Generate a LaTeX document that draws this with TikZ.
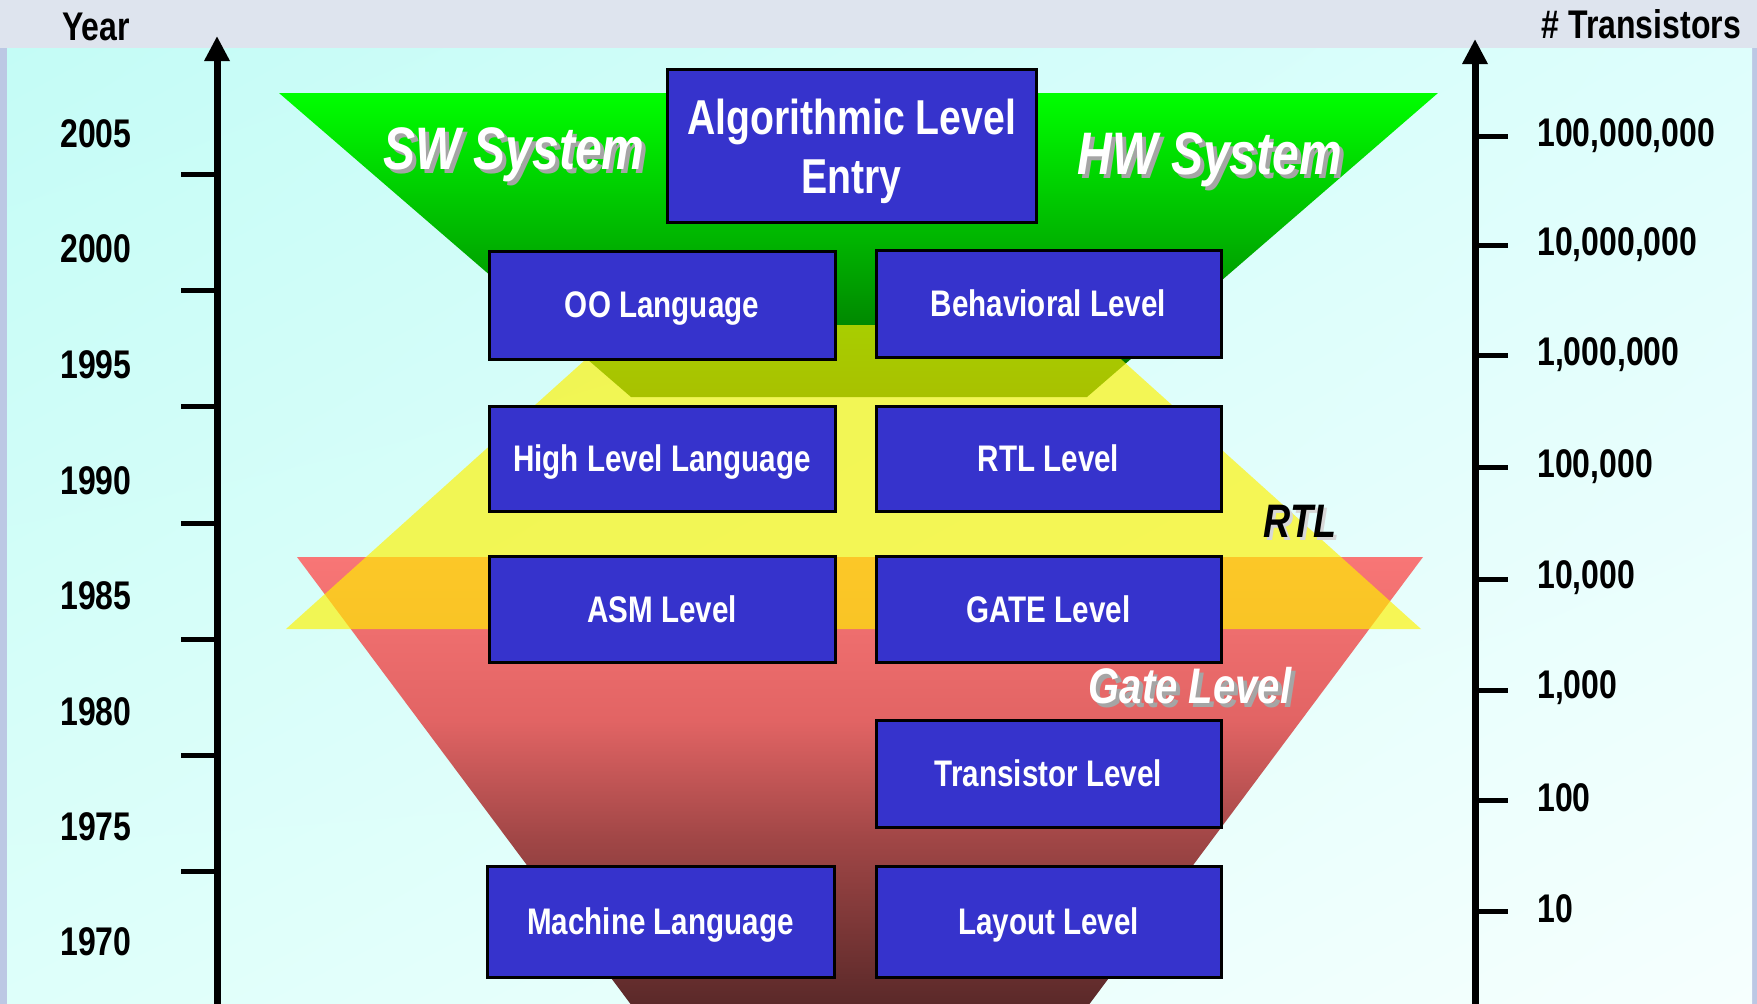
\documentclass[tikz,border=0pt]{standalone}
\usepackage{fontspec}
\setmainfont[FakeStretch=0.8]{Liberation Sans}
\usetikzlibrary{arrows.meta,shadings}
\definecolor{boxblue}{RGB}{54,51,204}
\definecolor{outerbg}{RGB}{222,228,238}
\definecolor{outerside}{RGB}{188,200,228}
\definecolor{cyanUL}{RGB}{196,252,246}
\definecolor{cyanUR}{RGB}{222,254,252}
\definecolor{cyanLL}{RGB}{222,255,250}
\definecolor{cyanLR}{RGB}{246,255,254}
\definecolor{gA}{RGB}{0,255,0}
\definecolor{gB}{RGB}{0,222,0}
\definecolor{gC}{RGB}{0,100,0}
\definecolor{rA}{RGB}{248,118,118}
\definecolor{rMid}{RGB}{226,100,100}
\definecolor{rLow}{RGB}{160,70,70}
\definecolor{rC}{RGB}{88,40,40}
\definecolor{shadowgray}{RGB}{165,165,165}
\definecolor{lightshadow}{RGB}{215,215,215}
\pgfdeclareverticalshading{redfade}{100bp}{color(0bp)=(rC); color(25bp)=(rC);
  color(43.75bp)=(rLow); color(57bp)=(rMid); color(75bp)=(rA); color(100bp)=(rA)}
\tikzset{
  box/.style={draw=black, line width=3pt, fill=boxblue, text=white, inner sep=0pt,
    text depth=0pt, font=\bfseries\fontsize{37}{44}\selectfont},
  boxtext/.style={text=white, inner sep=0pt, align=center,
    font=\bfseries\fontsize{49}{59}\selectfont},
  axisline/.style={line width=7pt, -{Triangle[width=24pt,length=25pt]}},
  tickline/.style={line width=5pt},
  axislabel/.style={font=\bfseries\fontsize{40}{48}\selectfont, text=black, inner sep=0pt},
  bigital/.style={font=\bfseries\itshape\fontsize{60}{70}\selectfont, inner sep=0pt},
  midital/.style={font=\bfseries\itshape\fontsize{50}{60}\selectfont, inner sep=0pt},
  rtlital/.style={font=\bfseries\itshape\fontsize{47}{56}\selectfont, inner sep=0pt}
}
\begin{document}
\begin{tikzpicture}[x=1pt,y=-1pt]
\useasboundingbox (0,0) rectangle (1757,1004);
\clip (0,0) rectangle (1757,1004);
% background
\fill[outerbg] (0,0) rectangle (1757,1004);
\fill[outerside] (0,48) rectangle (7,1004);
\fill[outerside] (1752,48) rectangle (1757,1004);
\shade[upper left=cyanUL, upper right=cyanUR, lower left=cyanLL, lower right=cyanLR]
  (7,48) rectangle (1752,1004);
% layered trapezoids
\shade[top color=gA, middle color=gB, bottom color=gC]
  (279,93) -- (1438,93) -- (1087,397) -- (631,397) -- cycle;
\shade[shading=redfade]
  (297,557) -- (1423,557) -- (1085,1010) -- (635,1010) -- cycle;
\fill[yellow, opacity=0.66]
  (286,629) -- (1421,629) -- (1083,325) -- (624,325) -- cycle;
% axes
\coordinate (lbot) at (217,1010);
\coordinate (ltop) at (217,36);
\coordinate (rbot) at (1475,1010);
\coordinate (rtop) at (1475,39);
\draw[axisline] (lbot) -- (ltop);
\draw[axisline] (rbot) -- (rtop);
\foreach \yy in {174,290,406,523,639,755,871} {
  \draw[tickline] (181,\yy) -- (217,\yy);
}
\foreach \yy in {136,245,355,467,579,690,800,911} {
  \draw[tickline] (1475,\yy) -- (1508,\yy);
}
% axis labels
\node[axislabel] (year) at (96,27) {Year};
\node[axislabel, anchor=east] (trans) at (1741,24) {\# Transistors};
\node[axislabel] (y2005) at (96,134) {2005};
\node[axislabel] (y2000) at (96,249) {2000};
\node[axislabel] (y1995) at (96,365) {1995};
\node[axislabel] (y1990) at (96,481) {1990};
\node[axislabel] (y1985) at (96,596) {1985};
\node[axislabel] (y1980) at (96,712) {1980};
\node[axislabel] (y1975) at (96,827) {1975};
\node[axislabel] (y1970) at (96,942) {1970};
\node[axislabel, anchor=west] (t8) at (1537,136) {100,000,000};
\node[axislabel, anchor=west] (t7) at (1537,245) {10,000,000};
\node[axislabel, anchor=west] (t6) at (1537,355) {1,000,000};
\node[axislabel, anchor=west] (t5) at (1537,467) {100,000};
\node[axislabel, anchor=west] (t4) at (1537,578) {10,000};
\node[axislabel, anchor=west] (t3) at (1537,688) {1,000};
\node[axislabel, anchor=west] (t2) at (1537,798) {100};
\node[axislabel, anchor=west] (t1) at (1537,909) {10};
% boxes
\node[box, minimum width=369pt, minimum height=153pt] (alg) at (851.5,145.5) {};
\node[boxtext] (algt) at (851.5,151.5) {Algorithmic Level\\Entry};
\node[box, minimum width=346pt, minimum height=108pt] (oo) at (662,305) {OO Language};
\node[box, minimum width=345pt, minimum height=107pt] (beh) at (1048.5,303.5) {Behavioral Level};
\node[box, minimum width=346pt, minimum height=105pt] (hll) at (662,458.5) {High Level Language};
\node[box, minimum width=345pt, minimum height=105pt] (rtlb) at (1048.5,458.5) {RTL Level};
\node[box, minimum width=346pt, minimum height=106pt] (asm) at (662,609) {ASM Level};
\node[box, minimum width=345pt, minimum height=106pt] (gate) at (1048.5,609) {GATE Level};
\node[box, minimum width=345pt, minimum height=107pt] (tran) at (1048.5,773.5) {Transistor Level};
\node[box, minimum width=347pt, minimum height=111pt] (mach) at (660.5,921.5) {Machine Language};
\node[box, minimum width=345pt, minimum height=111pt] (lay) at (1048.5,921.5) {Layout Level};
% italic region labels with shadows
\node[bigital, text=shadowgray] (swS) at (518,159) {SW System};
\node[bigital, text=white] (sw) at (514,155) {SW System};
\node[bigital, text=shadowgray] (hwS) at (1214,164) {HW System};
\node[bigital, text=white] (hw) at (1210,160) {HW System};
\node[rtlital, text=lightshadow] (rtlS) at (1303,524) {RTL};
\node[rtlital, text=black] (rtl) at (1300,521) {RTL};
\node[midital, text=shadowgray] (gateS) at (1194,690) {Gate Level};
\node[midital, text=white] (gatel) at (1190,686) {Gate Level};
\end{tikzpicture}
\end{document}
